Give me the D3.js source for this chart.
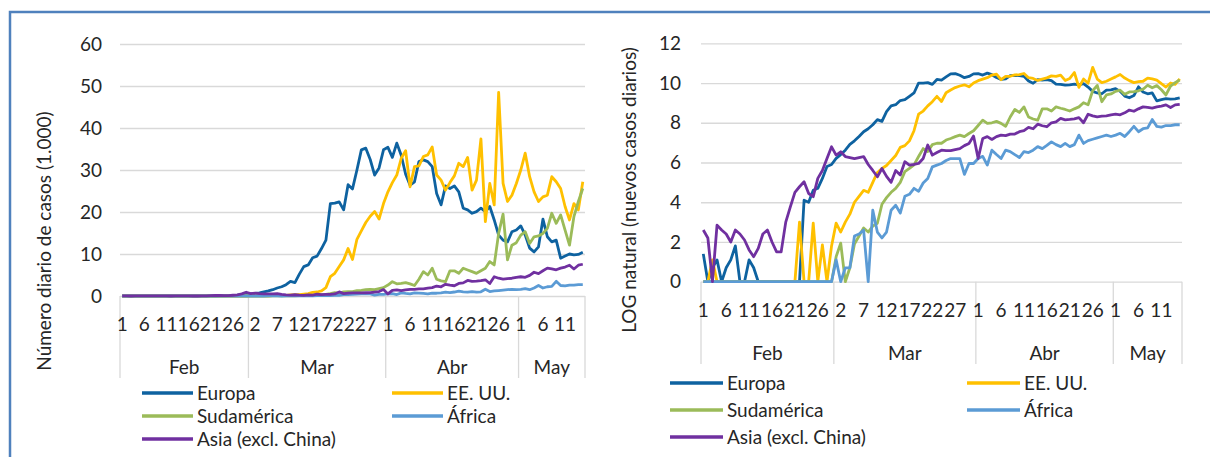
<!DOCTYPE html>
<html>
<head>
<meta charset="utf-8">
<script src="https://cdn.jsdelivr.net/npm/d3@7"></script>
<style>
body { margin: 0; background: #fff; }
svg text { font-family: Lato, "Open Sans", sans-serif; font-size: 19px; fill: #262626; }
</style>
</head>
<body>
<div id="chart"></div>
<script>
// months and days shown on the category axis
var meses = ["Feb", "Mar", "Abr", "May"];
var diasMes = [29, 31, 30, 15];
var etiquetasDia = [1, 6, 11, 16, 21, 26, 2, 7, 12, 17, 22, 27, 1, 6, 11, 16, 21, 26, 1, 6, 11];
var ticksCasos = [0, 10, 20, 30, 40, 50, 60];
var ticksLog = [0, 2, 4, 6, 8, 10, 12];
var series = ["Europa", "EE. UU.", "Sudamérica", "África", "Asia (excl. China)"];
var colores = ["#0e62a0", "#ffc000", "#9bbb59", "#5b9bd5", "#7030a0"];

// daily new cases (thousands)
var europaCasos = [
  0,0,0,0,0,0,0,0,0,0, 0,0,0,0,0,0,0,0,0,0, 0,0,0.06,0.055,0.1,0.11,0.18,0.33,0.37,
  0.5,0.6,0.75,1.0,1.2,1.5,1.9,2.2,2.7,3.5, 3.2,5.2,7.0,7.4,9.1,9.5,11.3,13.3,22.0,22.1, 22.4,20.5,26.5,25.5,30.0,34.8,35.2,32.5,28.8,30.5, 34.8,
  35.4,33.0,36.4,33.5,29.0,26.4,27.2,32.0,32.4,32.0, 30.8,24.4,21.7,26.2,25.6,26.2,24.8,20.9,20.5,19.7, 20.1,20.9,20.1,21.3,18.1,14.5,13.3,12.9,15.3,15.7,
  16.7,14.5,11.4,10.5,11.7,18.3,14.1,12.9,13.3,9.0, 9.5,10.0,9.8,9.9,10.4];
var eeuuCasos = [
  0,0,0,0,0,0,0,0,0,0, 0,0,0,0,0,0,0,0,0,0, 0,0,0,0,0,0,0,0,0,
  0.01,0.02,0.02,0.03,0.05,0.07,0.1,0.09,0.15,0.25, 0.3,0.35,0.45,0.57,0.86,0.95,1.2,2.0,4.6,5.4, 7.0,8.6,11.3,8.7,13.5,15.5,17.5,19.0,20.1,18.3, 22.0,
  24.8,27.0,28.8,32.8,34.6,26.0,30.8,31.0,33.2,33.6, 35.5,28.8,27.6,25.2,27.0,28.6,31.6,30.8,33.0,25.2, 27.6,37.4,17.7,26.8,21.7,48.5,26.8,22.5,24.0,26.8,
  30.0,34.0,28.4,24.8,22.5,23.6,24.0,28.4,27.2,25.6, 21.3,18.1,22.0,20.5,27.2];
var sudCasos = [
  0,0,0,0,0,0,0,0,0,0, 0,0,0,0,0,0,0,0,0,0, 0,0,0,0,0,0,0,0,0,
  0,0,0,0,0,0.01,0.01,0.01,0.02,0.02, 0.05,0.07,0.09,0.11,0.15,0.25,0.3,0.36,0.55,0.8, 0.7,1.0,1.05,1.05,1.25,1.35,1.5,1.6,1.5,1.75, 2.0,
  2.6,3.4,2.9,3.0,3.2,2.9,2.5,4.0,5.8,5.0, 6.6,4.0,3.6,3.4,6.0,6.0,5.4,6.6,6.2,5.8, 5.4,6.0,6.6,8.2,7.4,14.9,19.5,8.6,12.1,12.7,
  14.5,15.3,12.5,14.1,14.3,14.9,16.1,19.7,17.3,19.3, 15.7,12.1,18.9,22.5,25.6];
var africaCasos = [
  0,0,0,0,0,0,0,0,0,0, 0,0,0,0,0,0,0,0,0,0, 0,0,0,0,0,0,0,0,0,
  0,0,0,0,0.01,0.01,0.01,0,0.04,0.01, 0.01,0.01,0.04,0.05,0.03,0.07,0.08,0.11,0.1,0.14, 0.18,0.32,0.35,0.38,0.45,0.49,0.49,0.49,0.22,0.38, 0.38,
  0.5,0.55,0.35,0.75,0.6,0.5,0.75,0.7,0.6,0.52, 0.7,0.66,0.75,0.9,0.81,0.95,1.14,1.0,0.9,1.05, 0.9,1.0,1.6,1.05,1.2,1.3,1.4,1.5,1.6,1.5,
  1.6,1.75,1.5,1.9,2.5,1.9,2.2,2.3,3.5,2.5, 2.4,2.6,2.6,2.7,2.7];
var asiaCasos = [
  0.01,0.01,0,0.02,0.01,0.01,0.01,0.01,0.01,0.01, 0.01,0,0.01,0.01,0.01,0.01,0,0,0.02,0.04, 0.09,0.12,0.15,0.09,0.07,0.18,0.27,0.5,0.9,
  0.58,0.69,0.55,0.52,0.49,0.52,0.55,0.37,0.27,0.2, 0.3,0.2,0.15,0.27,0.22,0.42,0.35,0.37,0.38,0.49, 0.97,0.58,0.67,0.75,0.74,0.74,0.77,0.81,0.94,1.05, 1.53,
  0.49,1.35,1.48,1.29,1.48,1.6,1.56,1.69,1.69,1.9, 2.0,2.37,2.2,2.78,2.57,2.44,2.98,3.13,3.71,3.46, 3.53,3.64,3.86,2.98,4.58,4.23,4.03,4.15,4.23,4.45,
  4.58,4.45,4.91,5.65,5.33,6.0,6.63,6.43,6.24,6.63, 6.9,7.33,6.43,7.33,7.56];

// natural log of daily new cases
var europaLog = [
  1.4,0,0.7,1.1,0,0.7,1.1,1.8,0,0, 1.1,0.7,0,0,0,0,0,0,0,0, 0,0,4.1,4.0,4.6,4.7,5.2,5.8,5.9,
  6.21,6.4,6.62,6.91,7.09,7.31,7.55,7.7,7.9,8.16, 8.07,8.56,8.85,8.91,9.12,9.16,9.33,9.5,10.0,10.0, 10.02,9.93,10.18,10.15,10.31,10.46,10.47,10.39,10.27,10.33, 10.46,
  10.47,10.4,10.5,10.42,10.28,10.18,10.21,10.37,10.39,10.37, 10.34,10.1,9.99,10.17,10.15,10.17,10.12,9.95,9.93,9.89, 9.91,9.95,9.91,9.97,9.8,9.58,9.5,9.46,9.64,9.66,
  9.72,9.58,9.34,9.26,9.37,9.81,9.55,9.46,9.5,9.1, 9.16,9.21,9.19,9.2,9.25];
var eeuuLog = [
  0,0,1.1,0,0,0,0,0,0,0, 0,0,0,0,0,0,0,0,0,0, 0,3.0,0,0,2.95,0,1.85,0,1.8,
  2.95,2.5,3.0,3.4,4.0,4.3,4.6,4.5,5.0,5.5, 5.7,5.85,6.1,6.35,6.76,6.85,7.09,7.6,8.43,8.59, 8.85,9.06,9.33,9.07,9.51,9.65,9.77,9.85,9.91,9.81, 10.0,
  10.12,10.2,10.27,10.4,10.45,10.17,10.34,10.34,10.41,10.42, 10.48,10.27,10.23,10.13,10.2,10.26,10.36,10.34,10.4,10.13, 10.23,10.53,9.78,10.2,9.99,10.79,10.2,10.02,10.09,10.2,
  10.31,10.43,10.25,10.12,10.02,10.07,10.09,10.25,10.21,10.15, 9.97,9.8,10.0,9.93,10.21];
var sudLog = [
  0,0,0,0,0,0,0,0,0,0, 0,0,0,0,0,0,0,0,0,0, 0,0,0,0,0,0,0,0,0,
  1.26,1.94,0,0.7,1.9,2.3,2.7,2.5,2.8,2.94, 3.9,4.23,4.5,4.7,5.0,5.54,5.7,5.88,6.3,6.7, 6.55,6.9,6.97,6.97,7.13,7.21,7.3,7.38,7.3,7.46, 7.6,
  7.86,8.13,7.97,8.0,8.07,7.97,7.82,8.29,8.67,8.52, 8.8,8.29,8.19,8.13,8.7,8.7,8.59,8.8,8.73,8.67, 8.59,8.7,8.8,9.01,8.91,9.61,9.88,9.06,9.4,9.45,
  9.58,9.64,9.43,9.55,9.57,9.61,9.69,9.89,9.76,9.87, 9.66,9.4,9.85,10.02,10.15];
var africaLog = [
  0,0,0,0,0,0,0,0,0,0, 0,0,0,0,0,0,0,0,0,0, 0,0,0,0,0,0,0,0,0,
  1.1,0,0.7,0.7,2.3,2.4,2.6,0,3.6,2.5, 2.2,2.5,3.6,3.85,3.45,4.3,4.4,4.7,4.55,4.97, 5.2,5.78,5.87,5.95,6.1,6.2,6.2,6.2,5.4,5.95, 5.95,
  6.2,6.31,5.87,6.62,6.4,6.2,6.62,6.55,6.4,6.25, 6.55,6.5,6.62,6.8,6.7,6.86,7.04,6.9,6.8,6.96, 6.8,6.9,7.38,6.96,7.1,7.17,7.24,7.31,7.38,7.31,
  7.38,7.47,7.31,7.55,7.82,7.55,7.7,7.74,8.16,7.82, 7.78,7.86,7.86,7.9,7.9];
var asiaLog = [
  2.6,2.2,0,2.85,2.6,2.4,2.0,2.6,2.4,2.1, 1.6,1.26,1.68,2.4,2.6,2.0,1.5,1.5,3.0,3.77, 4.5,4.78,5.03,4.44,4.28,5.2,5.6,6.2,6.79,
  6.37,6.54,6.3,6.25,6.2,6.25,6.3,5.9,5.6,5.28, 5.7,5.3,5.0,5.6,5.37,6.04,5.87,5.9,5.95,6.2, 6.88,6.37,6.5,6.62,6.6,6.6,6.65,6.7,6.85,6.96, 7.33,
  6.2,7.21,7.3,7.16,7.3,7.38,7.35,7.43,7.43,7.55, 7.6,7.77,7.7,7.93,7.85,7.8,8.0,8.05,8.22,8.15, 8.17,8.2,8.26,8.0,8.43,8.35,8.3,8.33,8.35,8.4,
  8.43,8.4,8.5,8.64,8.58,8.7,8.8,8.77,8.74,8.8, 8.84,8.9,8.77,8.9,8.93];

// build the category list (one per day)
var categorias = [];
var inicioMes = [];
for (var m = 0; m < meses.length; m++) {
  inicioMes.push(categorias.length);
  for (var d = 1; d <= diasMes[m]; d++) {
    categorias.push(meses[m] + " " + d);
  }
}

var svg = d3.select('#chart').append('svg')
  .attr('width', 1210)
  .attr('height', 457);

// blue frame (top and left)
svg.append('path')
  .attr('d', 'M10,457 L10,12 L1210,12')
  .attr('fill', 'none')
  .attr('stroke', '#4f81bd')
  .attr('stroke-width', 2.5);

function drawChart(opt) {
  var g = svg.append('g');

  var x = d3.scaleBand()
    .domain(d3.range(categorias.length))
    .range([opt.left, opt.right]);
  var y = d3.scaleLinear()
    .domain([0, opt.max])
    .range([opt.bottom, opt.top]);
  var bw = x.bandwidth();

  // y axis with gridlines
  var ga = g.append('g')
    .attr('transform', 'translate(' + opt.left + ',0)')
    .call(d3.axisLeft(y).tickValues(opt.ticks)
      .tickSize(-(opt.right - opt.left)).tickPadding(opt.pad));
  ga.select('.domain').remove();
  ga.selectAll('.tick line').attr('stroke', '#d9d9d9').attr('stroke-width', 1.3);

  // month dividers
  var cortes = inicioMes.map(function(i) { return x(i); }).concat([opt.right]);
  g.selectAll('.div').data(cortes).enter().append('line')
    .attr('x1', function(d) { return d; }).attr('x2', function(d) { return d; })
    .attr('y1', opt.bottom).attr('y2', opt.divBottom)
    .attr('stroke', '#d9d9d9').attr('stroke-width', 1.3);

  // day labels every 5 categories
  g.selectAll('.dia').data(etiquetasDia).enter().append('text')
    .attr('x', function(d, k) { return x(k * 5) + bw / 2; })
    .attr('y', opt.dayY)
    .attr('dy', '0.35em')
    .attr('text-anchor', 'middle')
    .text(function(d) { return d; });

  // month labels
  g.selectAll('.mes').data(meses).enter().append('text')
    .attr('x', function(d, k) { return (cortes[k] + cortes[k + 1]) / 2; })
    .attr('y', opt.monthY)
    .attr('dy', '0.35em')
    .attr('text-anchor', 'middle')
    .text(function(d) { return d; });

  // axis title
  g.append('text')
    .attr('transform', 'translate(' + opt.titleX + ',' + opt.titleY + ') rotate(-90)')
    .attr('text-anchor', 'middle')
    .attr('dy', '0.35em')
    .text(opt.title);

  // lines
  var linea = d3.line()
    .x(function(d, i) { return x(i) + bw / 2; })
    .y(function(d) { return y(d); });
  opt.data.forEach(function(serie, k) {
    g.append('path')
      .attr('d', linea(serie))
      .attr('fill', 'none')
      .attr('stroke', colores[k])
      .attr('stroke-width', 2.8)
      .attr('stroke-linejoin', 'round');
  });

  // legend
  series.forEach(function(nombre, k) {
    var col = k % 2;
    var fila = Math.floor(k / 2);
    var lx = opt.legX[col];
    var ly = opt.legY[fila];
    g.append('line')
      .attr('x1', lx).attr('x2', lx + opt.legLen)
      .attr('y1', ly).attr('y2', ly)
      .attr('stroke', colores[k]).attr('stroke-width', 3.5);
    g.append('text')
      .attr('x', lx + opt.legLen + 4)
      .attr('y', ly)
      .attr('dy', '0.35em')
      .text(nombre);
  });
}

drawChart({
  left: 120, right: 585, top: 44, bottom: 296, max: 60,
  ticks: ticksCasos, pad: 18,
  divBottom: 378, dayY: 324, monthY: 367,
  title: 'Número diario de casos (1.000)', titleX: 44, titleY: 241,
  data: [europaCasos, eeuuCasos, sudCasos, africaCasos, asiaCasos],
  legX: [142, 392], legY: [393, 416, 439], legLen: 51
});

drawChart({
  left: 701, right: 1182, top: 43.3, bottom: 281.7, max: 12,
  ticks: ticksLog, pad: 20,
  divBottom: 364, dayY: 310, monthY: 353,
  title: 'LOG natural (nuevos casos diarios)', titleX: 629, titleY: 190,
  data: [europaLog, eeuuLog, sudLog, africaLog, asiaLog],
  legX: [670, 967], legY: [383, 410, 437], legLen: 53
});
</script>
</body>
</html>
